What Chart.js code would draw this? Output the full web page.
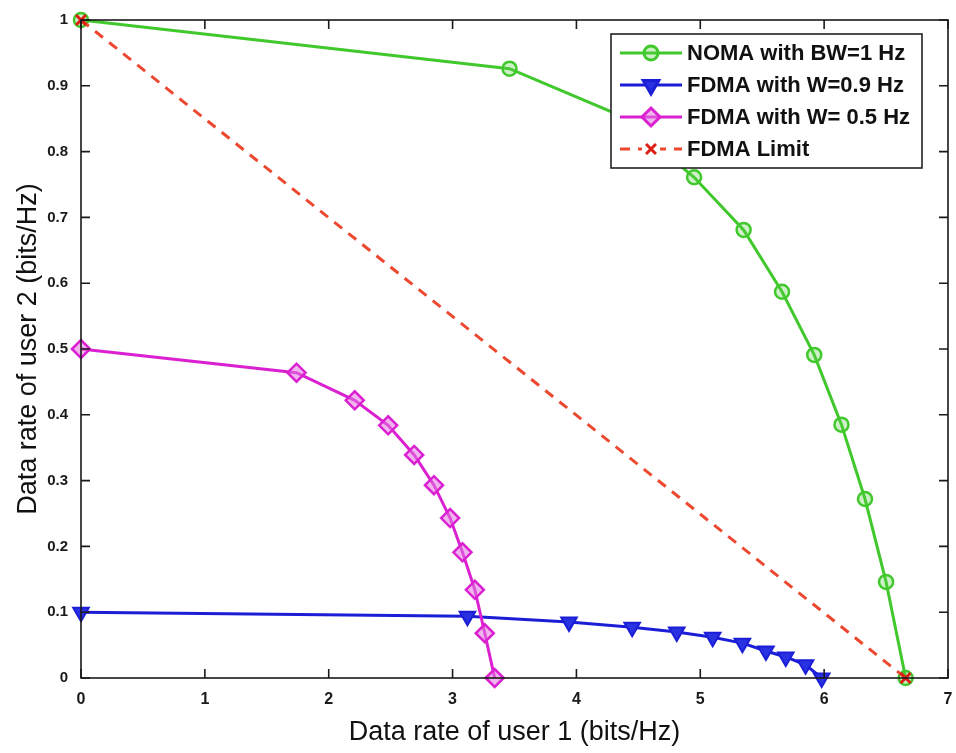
<!DOCTYPE html>
<html>
<head>
<meta charset="utf-8">
<script src="https://cdn.jsdelivr.net/npm/chart.js@4.4.1/dist/chart.umd.min.js"></script>
<style>
html, body { margin: 0; padding: 0; background: #fff; }
</style>
</head>
<body>
<canvas id="rateChart" width="956" height="753"></canvas>
<script>
// rates (x = user 1, y = user 2)
const nomaX = [0, 3.46, 4.35, 4.95, 5.35, 5.66, 5.92, 6.14, 6.33, 6.5, 6.658];
const nomaY = [1, 0.926, 0.855, 0.761, 0.681, 0.587, 0.491, 0.385, 0.272, 0.146, 0];
const fdma09X = [0, 3.12, 3.94, 4.45, 4.81, 5.1, 5.34, 5.53, 5.69, 5.85, 5.98];
const fdma09Y = [0.1, 0.094, 0.085, 0.077, 0.07, 0.062, 0.053, 0.041, 0.032, 0.02, 0];
const fdma05X = [0, 1.74, 2.21, 2.48, 2.69, 2.85, 2.98, 3.08, 3.18, 3.26, 3.34];
const fdma05Y = [0.5, 0.464, 0.422, 0.384, 0.339, 0.293, 0.243, 0.191, 0.134, 0.068, 0];
const limitX = [0, 6.658];
const limitY = [1, 0];

const xTicks = [0, 1, 2, 3, 4, 5, 6, 7];
const yTicks = [0, 0.1, 0.2, 0.3, 0.4, 0.5, 0.6, 0.7, 0.8, 0.9, 1];
const yTickLabels = ['0', '0.1', '0.2', '0.3', '0.4', '0.5', '0.6', '0.7', '0.8', '0.9', '1'];

const seriesNames = ['NOMA with BW=1 Hz', 'FDMA with W=0.9 Hz', 'FDMA with W= 0.5 Hz', 'FDMA Limit'];

const GREEN = 'rgb(64,200,44)';
const BLUE = 'rgb(28,30,215)';
const MAGENTA = 'rgb(218,32,208)';
const RED = 'rgb(236,72,48)';

function pts(xs, ys) {
    return xs.map((x, i) => ({ x: x, y: ys[i] }));
}

// box round the plot, with matlab style inward ticks
const frameTicks = {
    id: 'frameTicks',
    afterDatasetsDraw(chart) {
        const { ctx, chartArea: a, scales } = chart;
        const len = 9;
        ctx.save();
        ctx.strokeStyle = '#1a1a1a';
        ctx.lineWidth = 1.6;
        ctx.strokeRect(a.left, a.top, a.right - a.left, a.bottom - a.top);
        ctx.beginPath();
        xTicks.forEach(v => {
            const px = scales.x.getPixelForValue(v);
            ctx.moveTo(px, a.bottom); ctx.lineTo(px, a.bottom - len);
            ctx.moveTo(px, a.top); ctx.lineTo(px, a.top + len);
        });
        yTicks.forEach(v => {
            const py = scales.y.getPixelForValue(v);
            ctx.moveTo(a.left, py); ctx.lineTo(a.left + len, py);
            ctx.moveTo(a.right, py); ctx.lineTo(a.right - len, py);
        });
        ctx.stroke();
        ctx.restore();
    }
};

// legend box inside the plot (opaque, like matlab)
const boxLegend = {
    id: 'boxLegend',
    afterDraw(chart) {
        const ctx = chart.ctx;
        const left = 611, top = 34, w = 311, h = 134;
        ctx.save();
        ctx.fillStyle = '#fff';
        ctx.fillRect(left, top, w, h);
        ctx.strokeStyle = '#222';
        ctx.lineWidth = 1.6;
        ctx.strokeRect(left, top, w, h);
        ctx.font = 'bold 22px "Liberation Sans", Arial, sans-serif';
        ctx.textBaseline = 'middle';
        chart.data.datasets.forEach((ds, i) => {
            const y = top + 19 + i * 32;
            ctx.strokeStyle = ds.borderColor;
            ctx.lineWidth = ds.borderWidth;
            ctx.setLineDash(ds.borderDash || []);
            ctx.beginPath();
            ctx.moveTo(left + 9, y);
            ctx.lineTo(left + 71, y);
            ctx.stroke();
            ctx.setLineDash([]);
            ctx.strokeStyle = ds.pointBorderColor;
            ctx.fillStyle = ds.pointBackgroundColor;
            if (ds.pointStyle === 'crossRot') {
                ctx.fillStyle = '#fff';
                ctx.fillRect(left + 31, y - 9, 18, 18);
                ctx.fillStyle = ds.pointBackgroundColor;
            }
            Chart.helpers.drawPoint(ctx, {
                pointStyle: ds.pointStyle,
                radius: ds.pointRadius,
                rotation: ds.pointRotation || 0,
                borderWidth: ds.pointBorderWidth
            }, left + 40, y);
            ctx.fillStyle = '#111';
            ctx.fillText(seriesNames[i], left + 76, y + 1);
        });
        ctx.restore();
    }
};

const ctx = document.getElementById('rateChart').getContext('2d');

new Chart(ctx, {
    type: 'scatter',
    data: {
        datasets: [
            {
                label: seriesNames[0],
                data: pts(nomaX, nomaY),
                showLine: true,
                clip: false,
                borderColor: GREEN,
                borderWidth: 3,
                pointStyle: 'circle',
                pointRadius: 7,
                pointBorderWidth: 2.5,
                pointBorderColor: GREEN,
                pointBackgroundColor: 'rgba(90,205,70,0.3)',
                order: 3
            },
            {
                label: seriesNames[1],
                data: pts(fdma09X, fdma09Y),
                showLine: true,
                clip: false,
                borderColor: BLUE,
                borderWidth: 3,
                pointStyle: 'triangle',
                pointRotation: 180,
                pointRadius: 9,
                pointBorderWidth: 2,
                pointBorderColor: BLUE,
                pointBackgroundColor: 'rgb(40,50,225)',
                order: 2
            },
            {
                label: seriesNames[2],
                data: pts(fdma05X, fdma05Y),
                showLine: true,
                clip: false,
                borderColor: MAGENTA,
                borderWidth: 3,
                pointStyle: 'rectRot',
                pointRadius: 9,
                pointBorderWidth: 2.5,
                pointBorderColor: MAGENTA,
                pointBackgroundColor: 'rgba(228,120,225,0.55)',
                order: 1
            },
            {
                label: seriesNames[3],
                data: pts(limitX, limitY),
                showLine: true,
                clip: false,
                borderColor: RED,
                borderWidth: 3,
                borderDash: [10, 8],
                pointStyle: 'crossRot',
                pointRadius: 7,
                pointBorderWidth: 3,
                pointBorderColor: 'rgb(220,30,20)',
                pointBackgroundColor: 'rgb(220,30,20)',
                order: 0
            }
        ]
    },
    options: {
        responsive: false,
        animation: false,
        devicePixelRatio: 1,
        layout: { autoPadding: false, padding: { top: 20, right: 8, left: 0, bottom: 0 } },
        plugins: {
            legend: { display: false },
            tooltip: { enabled: false }
        },
        scales: {
            x: {
                type: 'linear',
                min: 0,
                max: 7,
                afterBuildTicks: s => { s.ticks = xTicks.map(v => ({ value: v })); },
                afterFit: s => { s.height = 75; s.paddingLeft = 0; s.paddingRight = 0; },
                grid: { display: false, drawTicks: false },
                border: { display: false },
                ticks: {
                    padding: 12,
                    color: '#1a1a1a',
                    font: { family: '"Liberation Sans", Arial, sans-serif', size: 16, weight: 'bold' }
                },
                title: {
                    display: true,
                    text: 'Data rate of user 1 (bits/Hz)',
                    color: '#111',
                    padding: { top: 0, bottom: 4 },
                    font: { family: '"Liberation Sans", Arial, sans-serif', size: 27 }
                }
            },
            y: {
                type: 'linear',
                min: 0,
                max: 1,
                afterBuildTicks: s => { s.ticks = yTicks.map(v => ({ value: v })); },
                afterFit: s => { s.width = 81; s.paddingTop = 0; s.paddingBottom = 0; },
                grid: { display: false, drawTicks: false },
                border: { display: false },
                ticks: {
                    padding: 13,
                    color: '#1a1a1a',
                    font: { family: '"Liberation Sans", Arial, sans-serif', size: 15, weight: 'bold' },
                    callback: (v, i) => yTickLabels[i]
                },
                title: {
                    display: true,
                    text: 'Data rate of user 2 (bits/Hz)',
                    color: '#111',
                    padding: { top: 12, bottom: 0 },
                    font: { family: '"Liberation Sans", Arial, sans-serif', size: 27 }
                }
            }
        }
    },
    plugins: [frameTicks, boxLegend]
});
</script>
</body>
</html>
